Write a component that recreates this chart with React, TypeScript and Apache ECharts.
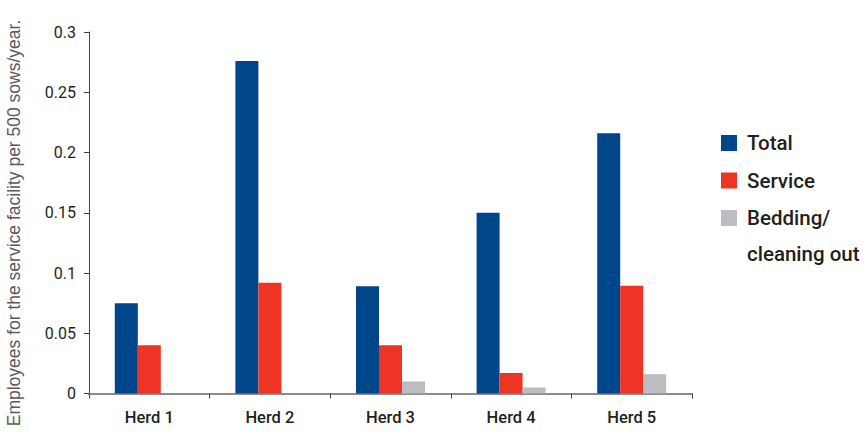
import React, { useEffect, useRef } from "react";
import * as echarts from "echarts";

const categories = ["Herd 1", "Herd 2", "Herd 3", "Herd 4", "Herd 5"];
const totalValues = [0.075, 0.276, 0.089, 0.15, 0.216];
const serviceValues = [0.04, 0.092, 0.04, 0.017, 0.0895];
const beddingValues = [0, 0, 0.01, 0.005, 0.016];
const seriesNames = ["Total", "Service", "Bedding/\ncleaning out"];
const seriesColors = ["#00468a", "#ee3425", "#bcbdc0"];
const yAxisName = "Employees for the service facility per 500 sows/year.";

export default function App() {
  const ref = useRef<HTMLDivElement>(null);
  useEffect(() => {
    if (!ref.current) return;
    const chart = echarts.init(ref.current, null, { renderer: "svg" });
    const font = "Roboto";
    const values = [totalValues, serviceValues, beddingValues];

    const legendGraphics: any[] = [];
    seriesNames.forEach((name, i) => {
      const cy = 143 + 37.5 * i;
      legendGraphics.push({
        type: "rect",
        left: 721,
        top: cy - 8,
        shape: { width: 16, height: 16 },
        style: { fill: seriesColors[i] },
      });
      legendGraphics.push({
        type: "text",
        x: 747,
        y: cy - 18,
        style: {
          text: name,
          fontFamily: font,
          fontSize: 20.5,
          fontWeight: 500,
          fill: "#231f20",
          lineHeight: 36,
          verticalAlign: "top",
          align: "left",
        },
      });
    });

    chart.setOption({
      animation: false,
      grid: {
        left: 89,
        right: 174,
        top: 32,
        bottom: 44.5,
        containLabel: false,
        outerBoundsMode: "none",
      },
      graphic: [
        {
          type: "text",
          x: 14,
          y: 223,
          rotation: Math.PI / 2,
          style: {
            text: yAxisName,
            fontFamily: "Liberation Sans",
            fontSize: 17.5,
            fill: "#5a5a5a",
            align: "center",
            verticalAlign: "middle",
          },
        },
        ...legendGraphics,
      ],
      xAxis: {
        type: "category",
        data: categories,
        axisLine: { lineStyle: { color: "#8c8c8c", width: 2 } },
        axisTick: { show: true, length: 5, lineStyle: { color: "#444", width: 1 } },
        axisLabel: {
          fontFamily: font,
          fontSize: 16.5,
          fontWeight: 500,
          color: "#231f20",
          margin: 15,
        },
      },
      yAxis: {
        type: "value",
        min: 0,
        max: 0.3,
        interval: 0.05,
        splitLine: { show: false },
        axisLine: { show: true, lineStyle: { color: "#444", width: 1 } },
        axisTick: { show: true, length: 5, lineStyle: { color: "#444" } },
        axisLabel: {
          fontFamily: font,
          fontSize: 16,
          color: "#231f20",
          margin: 13,
        },
      },
      series: seriesNames.map((name, i) => ({
        name,
        type: "bar",
        data: values[i],
        barWidth: 23,
        barGap: "0%",
        itemStyle: { color: seriesColors[i] },
      })),
    });
    return () => chart.dispose();
  }, []);
  return <div ref={ref} style={{ width: 866, height: 438, position: "absolute", left: 0, top: 0 }} />;
}
